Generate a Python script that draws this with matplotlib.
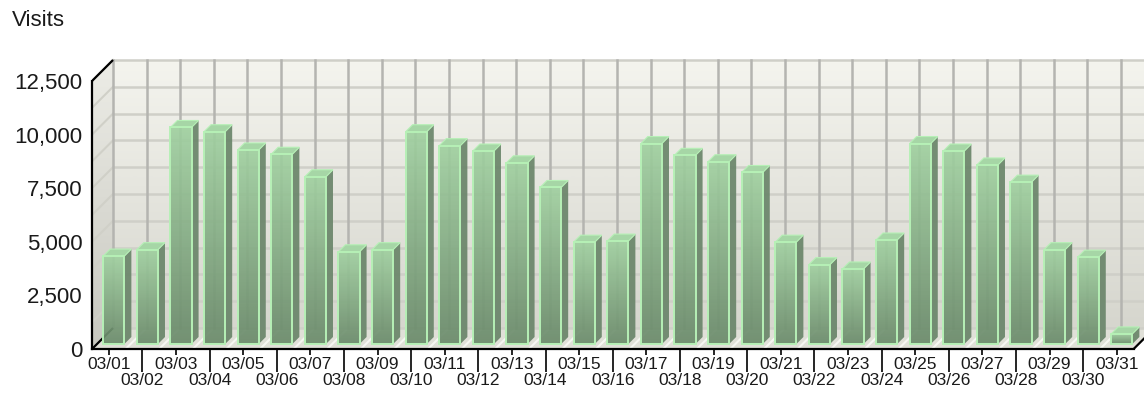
"""Visits per day, March - pseudo-3D bar chart."""
import numpy as np
import matplotlib
matplotlib.use("Agg")
import matplotlib.pyplot as plt
from matplotlib.colors import LinearSegmentedColormap
from matplotlib.patches import Polygon, Rectangle

plt.rcParams.update({
    "font.family": ["Liberation Sans", "DejaVu Sans"],
    "font.size": 12,
})

days = [f"03/{d:02d}" for d in range(1, 32)]
visits = [4100, 4400, 10100, 9900, 9050, 8850, 7800, 4300, 4400, 9900,
          9250, 9000, 8450, 7300, 4750, 4800, 9350, 8800, 8500, 8000,
          4750, 3700, 3500, 4850, 9350, 9000, 8350, 7550, 4400, 4050, 470]
y_ticks = [0, 2500, 5000, 7500, 10000, 12500]
y_grid = list(range(0, 12501, 1250))
y_title = "Visits"

# layout in pixels
W, H = 1144, 404
LEFT, BOTTOM, TOP = 92, 349, 40
CAT_PX = 33.6
VAL_PX = 268 / 12500
DEPTH_PX = 21
YMAX = 12500
n = len(days)

DX = DEPTH_PX / CAT_PX
DY = DEPTH_PX / VAL_PX

fig = plt.figure(figsize=(W / 100, H / 100), dpi=100)
ax = fig.add_axes([LEFT / W, (H - BOTTOM) / H, (W - LEFT) / W, (BOTTOM - TOP) / H])
xlim = (0, (W - LEFT) / CAT_PX)
ylim = (0, (BOTTOM - TOP) / VAL_PX)


def grad(c_top, c_bot):
    return LinearSegmentedColormap.from_list("g", [c_bot, c_top])


vgrad = np.linspace(0, 1, 64).reshape(-1, 1)

# back wall
ax.imshow(vgrad, cmap=grad("#f4f4ee", "#d6d6ce"), origin="lower", aspect="auto",
          extent=[DX, n + DX, DY, YMAX + DY], zorder=0, interpolation="bilinear")
# left wall
lw = Polygon([(0, 0), (DX, DY), (DX, YMAX + DY), (0, YMAX)], closed=True,
             facecolor="none", edgecolor="none")
ax.add_patch(lw)
im = ax.imshow(vgrad, cmap=grad("#ecece6", "#c8c8c0"), origin="lower", aspect="auto",
               extent=[0, DX, 0, YMAX + DY], zorder=0, interpolation="bilinear")
im.set_clip_path(lw)
# floor
ax.add_patch(Polygon([(0, 0), (n, 0), (n + DX, DY), (DX, DY)], closed=True,
                     facecolor="#e0e0d8", edgecolor="none", zorder=0.5))
for k in range(n + 1):
    ax.plot([k, k + DX], [0, DY], color="#f6f6f2", lw=1.5, zorder=0.6)

# grid on back and left walls
for v in y_grid:
    ax.plot([DX, n + DX], [v + DY, v + DY], color="#cfcfc8", lw=1.8, zorder=1)
    ax.plot([0, DX], [v, v + DY], color="#d0d0c8", lw=1.5, zorder=1)
for k in range(n + 1):
    ax.plot([k + DX, k + DX], [DY, YMAX + DY], color="#b4b4b0", lw=1.8, zorder=1)

# frame lines behind the bars
frame = dict(color="black", lw=1.6, solid_capstyle="butt")
ax.plot([0, DX], [0, DY], zorder=2, **frame)

# bars
bw = 0.63
d0, d1 = 5 / DEPTH_PX, 12 / DEPTH_PX
front_cmap = grad("#a0d0a0", "#6a8a6a")
for i, v in enumerate(visits):
    xl = i + 0.5 - bw / 2 + d0 * DX
    xr = xl + bw
    y0 = d0 * DY
    y1 = v + d0 * DY
    ddx, ddy = (d1 - d0) * DX, (d1 - d0) * DY
    ax.imshow(vgrad, cmap=front_cmap, origin="lower", aspect="auto", alpha=0.92,
              extent=[xl, xr, y0, y1], zorder=3, interpolation="bilinear")
    ax.add_patch(Rectangle((xl, y0), bw, v, facecolor="none",
                           edgecolor="#b6f0b6", lw=1.4, zorder=4))
    ax.add_patch(Polygon([(xr, y0), (xr + ddx, y0 + ddy), (xr + ddx, y1 + ddy), (xr, y1)],
                         closed=True, facecolor="#6a856a", edgecolor="none",
                         alpha=0.92, zorder=3))
    ax.add_patch(Polygon([(xl, y1), (xr, y1), (xr + ddx, y1 + ddy), (xl + ddx, y1 + ddy)],
                         closed=True, facecolor="#a6d6a6", edgecolor="#b6f0b6",
                         lw=0.8, zorder=3))

# frame lines in front
ax.plot([0, DX], [YMAX, YMAX + DY], zorder=5, **frame)
ax.plot([n, n + DX], [0, DY], zorder=5, **frame)
for s in ["top", "right"]:
    ax.spines[s].set_visible(False)
ax.spines["left"].set_bounds(0, YMAX)
ax.spines["bottom"].set_bounds(0, n)
for s in ["left", "bottom"]:
    ax.spines[s].set_linewidth(1.6)
    ax.spines[s].set_zorder(5)

ax.set_yticks(y_ticks)
ax.set_yticklabels([f"{t:,}" for t in y_ticks], fontsize=16, color="#1a1a1a")
ax.tick_params(axis="y", length=0, pad=7)

pos = np.arange(n) + 0.5
ax.set_xticks(pos[0::2])
ax.set_xticklabels(days[0::2], fontsize=12.5, color="#1a1a1a")
ax.set_xticks(pos[1::2], minor=True)
ax.set_xticklabels(days[1::2], minor=True, fontsize=12.5, color="#1a1a1a")
ax.tick_params(axis="x", which="major", length=4.5, width=1.2, pad=1)
ax.tick_params(axis="x", which="minor", length=16.5, width=1.2, pad=1)

ax.set_xlim(*xlim)
ax.set_ylim(*ylim)
ax.patch.set_visible(False)

fig.text(12 / W, 1 - 20 / H, y_title, fontsize=16, color="#1a1a1a", va="center", ha="left")

fig.savefig("out.png", dpi=100)
